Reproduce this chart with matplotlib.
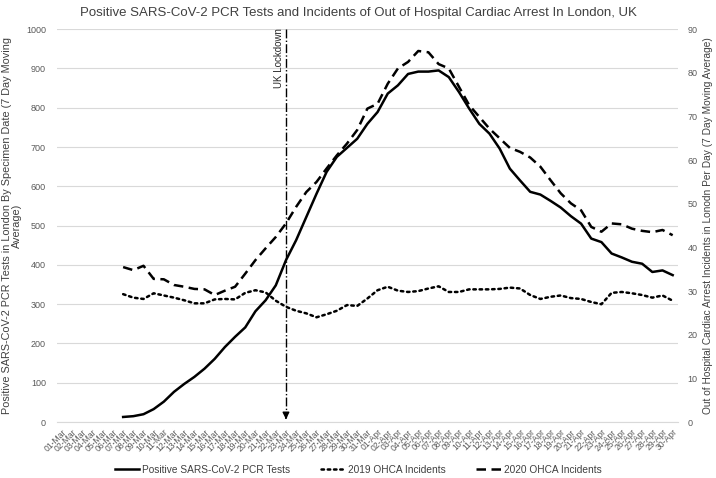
import numpy as np
import pandas as pd
import matplotlib
matplotlib.use('Agg')
import matplotlib.pyplot as plt

plt.rcParams['font.family'] = ['Liberation Sans', 'DejaVu Sans']

# one category per day, 01-Mar .. 30-Apr
dates = pd.date_range('2020-03-01', '2020-04-30')
date_labels = [d.strftime('%d-%b') for d in dates]

# series start on 07-Mar
start = 6
pcr_tests = [13, 15, 20, 33, 52, 77, 97, 115, 136, 161, 191, 217, 241, 282, 310,
             348, 412, 463, 522, 581, 637, 675, 698, 721, 759, 789, 836, 857,
             886, 892, 892, 895, 878, 840, 798, 759, 734, 696, 645, 615, 586,
             579, 563, 546, 524, 505, 467, 458, 429, 419, 408, 403, 382, 386, 374]
ohca_2019 = [29.3, 28.5, 28.2, 29.5, 29.0, 28.5, 27.9, 27.2, 27.2, 28.1, 28.2,
             28.1, 29.6, 30.2, 29.7, 27.8, 26.4, 25.5, 24.9, 24.0, 24.7, 25.5,
             26.8, 26.6, 28.3, 30.2, 31.0, 30.1, 29.8, 30.0, 30.6, 31.1, 29.8,
             29.8, 30.4, 30.4, 30.4, 30.5, 30.8, 30.6, 29.1, 28.2, 28.7, 29.0,
             28.4, 28.2, 27.5, 27.0, 29.6, 29.8, 29.5, 29.1, 28.5, 29.0, 27.8]
ohca_2020 = [35.5, 34.8, 35.8, 32.8, 32.7, 31.4, 31.0, 30.5, 30.4, 29.1, 30.1,
             31.0, 34.0, 37.1, 39.8, 42.4, 45.5, 49.3, 52.7, 55.0, 58.1, 61.1,
             63.8, 66.9, 71.8, 72.9, 77.5, 81.0, 82.5, 85.0, 84.7, 82.0, 81.0,
             76.8, 72.6, 69.9, 67.2, 65.0, 62.8, 61.9, 60.6, 58.5, 55.4, 52.4,
             50.1, 48.5, 44.7, 43.6, 45.5, 45.3, 44.3, 43.8, 43.5, 44.0, 42.8]
lockdown_idx = 22  # 23-Mar

x_all = np.arange(len(date_labels))
x = x_all[start:start + len(pcr_tests)]

tick_col = '#595959'
dots = (0, (1, 1.5))
dashes = (0, (3.8, 2.2))

fig = plt.figure(figsize=(7.16, 4.78), dpi=100)
ax = fig.add_axes([0.0796, 0.117, 0.867, 0.822])
ax2 = ax.twinx()

ax.plot(x, pcr_tests, color='k', lw=1.8, solid_joinstyle='round')
ax2.plot(x, ohca_2019, color='k', lw=1.8, ls=dots, dash_capstyle='round')
ax2.plot(x, ohca_2020, color='k', lw=1.8, ls=dashes)

ax.set_ylim(0, 1000)
ax2.set_ylim(0, 90)
ax.set_xlim(-0.5, len(date_labels) - 0.5)
ax.set_yticks(np.arange(0, 1001, 100))
ax2.set_yticks(np.arange(0, 91, 10))
ax.set_xticks(x_all)
ax.set_xticklabels(date_labels, rotation=45, ha='right', rotation_mode='anchor',
                   fontsize=6.2, color=tick_col)
ax.tick_params(axis='x', length=0, pad=4)
ax.tick_params(axis='y', length=0, labelsize=6.5, labelcolor=tick_col, pad=8)
ax2.tick_params(axis='y', length=0, labelsize=6.5, labelcolor=tick_col, pad=7)
ax.grid(axis='y', color='#d9d9d9', lw=0.8)
ax.set_axisbelow(True)
for a in (ax, ax2):
    for s in a.spines.values():
        s.set_visible(False)
ax.spines['bottom'].set_visible(True)
ax.spines['bottom'].set_color('#d9d9d9')

# lockdown marker
ax.plot([lockdown_idx, lockdown_idx], [1000, 12], color='k', lw=1.0, ls='-.')
ax.annotate('', xy=(lockdown_idx, 0), xytext=(lockdown_idx, 20),
            arrowprops=dict(arrowstyle='-|>', color='k', lw=1.0, mutation_scale=10))
ax.text(lockdown_idx - 0.2, 1003, 'UK Lockdown', rotation=90, ha='right', va='top',
        fontsize=7, color='#262626')

ax.set_ylabel('Positive SARS-CoV-2 PCR Tests in London By Specimen Date (7 Day Moving\nAverage)',
              fontsize=7.8, color='#404040', labelpad=3, linespacing=1.0)
ax2.set_ylabel('Out of Hospital Cardiac Arrest Incidents in Lonodn Per Day (7 Day Moving Average)',
               fontsize=7.3, color='#404040', labelpad=4)
fig.suptitle('Positive SARS-CoV-2 PCR Tests and Incidents of Out of Hospital Cardiac Arrest In London, UK',
             y=0.985, fontsize=9.5, color='#404040')

h1 = plt.Line2D([], [], color='k', lw=1.8)
h2 = plt.Line2D([], [], color='k', lw=1.8, ls=dots, dash_capstyle='round')
h3 = plt.Line2D([], [], color='k', lw=1.8, ls=dashes)
fig.legend([h1, h2, h3], ['Positive SARS-CoV-2 PCR Tests', '2019 OHCA Incidents',
                          '2020 OHCA Incidents'],
           loc='center', bbox_to_anchor=(0.5, 0.017), ncol=3, frameon=False,
           fontsize=7.3, labelcolor='#404040', handlelength=2.4,
           handletextpad=0.3, columnspacing=3.0)

fig.savefig('out.png', dpi=100)
